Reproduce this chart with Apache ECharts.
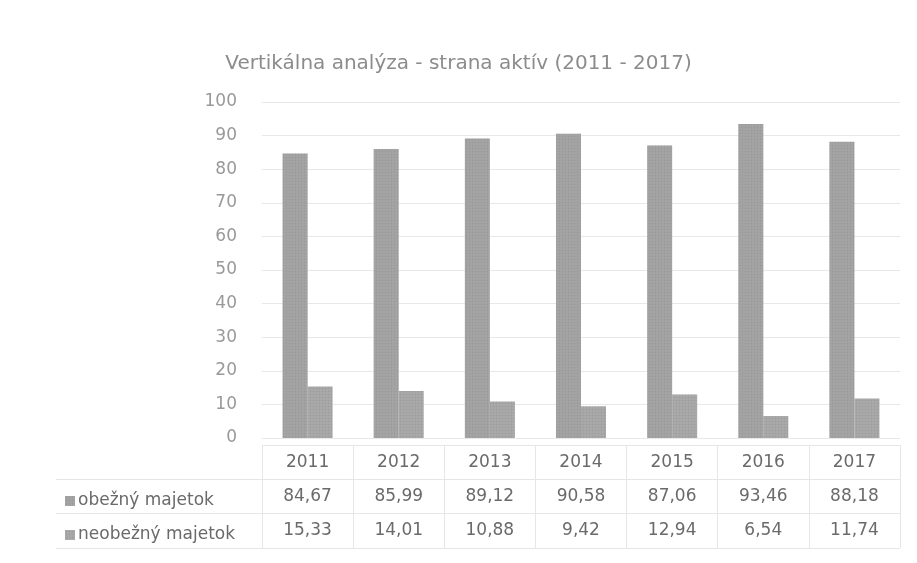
<!DOCTYPE html>
<html><head><meta charset="utf-8">
<script src="https://cdn.jsdelivr.net/npm/echarts@6/dist/echarts.min.js"></script>
<style>html,body{margin:0;padding:0;background:#fff}#c{width:917px;height:563px}</style>
</head><body><div id="c"></div>
<script>
const categories = ['2011','2012','2013','2014','2015','2016','2017'];
const obezny = [84.67, 85.99, 89.12, 90.58, 87.06, 93.46, 88.18];
const neobezny = [15.33, 14.01, 10.88, 9.42, 12.94, 6.54, 11.74];
const seriesNames = ['obežný majetok', 'neobežný majetok'];
const yTicks = {min: 0, max: 100, interval: 10};
const fmt = v => v.toFixed(2).replace('.', ',');
const font = 'DejaVu Sans';
const chart = echarts.init(document.getElementById('c'));
chart.setOption({
  backgroundColor: '#fff',
  animation: false,
  title: {text: 'Vertikálna analýza - strana aktív (2011 - 2017)', left: 'center', top: 49,
    textStyle: {fontFamily: font, fontSize: 20, fontWeight: 'normal', color: '#8c8c8c'}},
  legend: {orient: 'vertical', left: 60, top: 486, itemWidth: 10, itemHeight: 10, itemGap: 14,
    icon: 'rect', data: seriesNames,
    textStyle: {fontFamily: font, fontSize: 17, lineHeight: 20, color: '#6a6a6a', padding: [0,0,0,-2]}},
  grid: [
    {left: 262, right: 17, top: 102, bottom: 125},
    {left: 262, right: 17, top: 445, height: 103},
    {left: 56, width: 206, top: 479.3, height: 68.7}
  ],
  xAxis: [
    {type: 'category', data: categories, gridIndex: 0,
     axisLine: {show: false}, axisTick: {show: false},
     axisLabel: {margin: 7, fontFamily: font, fontSize: 17, color: '#6a6a6a', lineHeight: 34.3,
       formatter: (v, i) => v + '\n' + fmt(obezny[i]) + '\n' + fmt(neobezny[i])}},
    {type: 'category', data: categories, gridIndex: 1, axisLabel: {show: false},
     axisLine: {show: false}, axisTick: {show: false},
     splitLine: {show: true, lineStyle: {color: '#e6e6e6'}}},
    {type: 'category', data: [''], gridIndex: 2, axisLabel: {show: false},
     axisLine: {show: false}, axisTick: {show: false}, splitLine: {show: false}}
  ],
  yAxis: [
    {type: 'value', gridIndex: 0, min: yTicks.min, max: yTicks.max, interval: yTicks.interval,
     axisLine: {show: false}, axisTick: {show: false},
     axisLabel: {margin: 25, fontFamily: font, fontSize: 17, color: '#999999'},
     splitLine: {lineStyle: {color: '#e8e8e8'}}},
    {type: 'value', gridIndex: 1, min: 0, max: 3, interval: 1, axisLabel: {show: false},
     axisLine: {show: false}, axisTick: {show: false},
     splitLine: {show: true, lineStyle: {color: '#e6e6e6'}}},
    {type: 'value', gridIndex: 2, min: 0, max: 2, interval: 1, axisLabel: {show: false},
     axisLine: {show: false}, axisTick: {show: false},
     splitLine: {show: true, lineStyle: {color: '#e6e6e6'}}}
  ],
  series: [
    {name: seriesNames[0], type: 'bar', data: obezny, barWidth: 25, barGap: '0%',
     itemStyle: {color: '#a6a6a6',
       decal: {symbol: 'circle', symbolSize: 0.6, dashArrayX: [3, 0], dashArrayY: [3, 0], color: 'rgba(140,140,140,0.5)'}}},
    {name: seriesNames[1], type: 'bar', data: neobezny, barWidth: 25, barGap: '0%',
     itemStyle: {color: '#ababab',
       decal: {symbol: 'rect', symbolSize: 0.5, dashArrayX: [3, 0], dashArrayY: [3, 0], color: 'rgba(140,140,140,0.5)'}}}
  ]
});
</script></body></html>
